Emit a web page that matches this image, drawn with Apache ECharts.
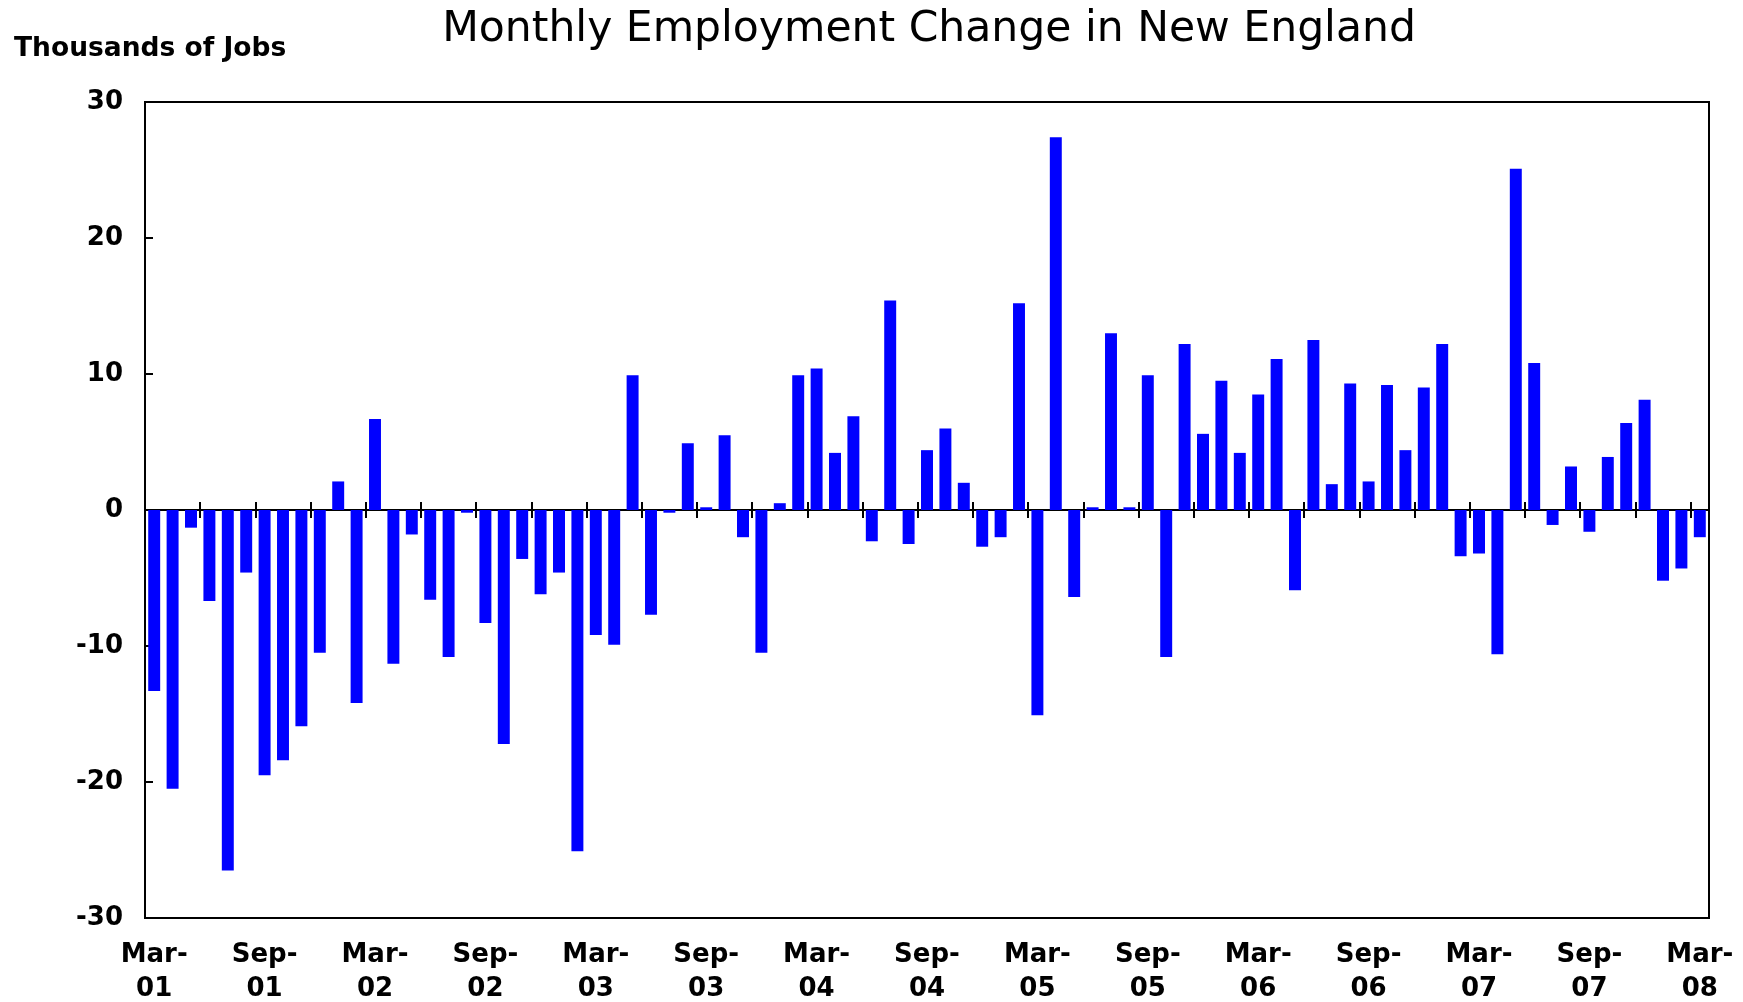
<!DOCTYPE html>
<html>
<head>
<meta charset="utf-8">
<title>Monthly Employment Change in New England</title>
<script src="https://cdn.jsdelivr.net/npm/echarts@6/dist/echarts.min.js"></script>
<style>
  html, body { margin: 0; padding: 0; background: #fff; }
  #chart { width: 1743px; height: 1002px; }
</style>
</head>
<body>
<div id="chart"></div>
<script>
// 月份（Mar-01 ~ Mar-08）
var months = [
  'Mar-01','Apr-01','May-01','Jun-01','Jul-01','Aug-01','Sep-01','Oct-01','Nov-01','Dec-01',
  'Jan-02','Feb-02','Mar-02','Apr-02','May-02','Jun-02','Jul-02','Aug-02','Sep-02','Oct-02','Nov-02','Dec-02',
  'Jan-03','Feb-03','Mar-03','Apr-03','May-03','Jun-03','Jul-03','Aug-03','Sep-03','Oct-03','Nov-03','Dec-03',
  'Jan-04','Feb-04','Mar-04','Apr-04','May-04','Jun-04','Jul-04','Aug-04','Sep-04','Oct-04','Nov-04','Dec-04',
  'Jan-05','Feb-05','Mar-05','Apr-05','May-05','Jun-05','Jul-05','Aug-05','Sep-05','Oct-05','Nov-05','Dec-05',
  'Jan-06','Feb-06','Mar-06','Apr-06','May-06','Jun-06','Jul-06','Aug-06','Sep-06','Oct-06','Nov-06','Dec-06',
  'Jan-07','Feb-07','Mar-07','Apr-07','May-07','Jun-07','Jul-07','Aug-07','Sep-07','Oct-07','Nov-07','Dec-07',
  'Jan-08','Feb-08','Mar-08'
];

// 每月就业变化（千人）
var jobChange = [
  -13.3,-20.5,-1.3,-6.7,-26.5,-4.6,-19.5,-18.4,-15.9,-10.5,
  2.1,-14.2,6.7,-11.3,-1.8,-6.6,-10.8,-0.2,-8.3,-17.2,-3.6,-6.2,
  -4.6,-25.1,-9.2,-9.9,9.9,-7.7,-0.2,4.9,0.2,5.5,-2.0,-10.5,
  0.5,9.9,10.4,4.2,6.9,-2.3,15.4,-2.5,4.4,6.0,2.0,-2.7,
  -2.0,15.2,-15.1,27.4,-6.4,0.2,13.0,0.2,9.9,-10.8,12.2,5.6,
  9.5,4.2,8.5,11.1,-5.9,12.5,1.9,9.3,2.1,9.2,4.4,9.0,
  12.2,-3.4,-3.2,-10.6,25.1,10.8,-1.1,3.2,-1.6,3.9,6.4,8.1,
  -5.2,-4.3,-2.0
];

var yTicks = [-30, 30, 10]; // min, max, interval

var boldFont = 'DejaVu Sans';

var chart = echarts.init(document.getElementById('chart'));

var option = {
  backgroundColor: '#fff',
  animation: false,
  title: [
    {
      text: 'Monthly Employment Change in New England',
      left: 929,
      textAlign: 'center',
      top: 9,
      padding: 0,
      textStyle: { fontFamily: boldFont, fontSize: 42.5, fontWeight: 'normal', color: '#000', lineHeight: 42 }
    },
    {
      text: 'Thousands of Jobs',
      left: 14,
      top: 36,
      padding: 0,
      textStyle: { fontFamily: boldFont, fontSize: 26.5, fontWeight: 'bold', color: '#000', lineHeight: 26 }
    }
  ],
  grid: {
    left: 145,
    right: 34,
    top: 102,
    bottom: 84,
    show: true,
    borderColor: '#000',
    borderWidth: 2,
    containLabel: false,
    outerBoundsMode: 'none'
  },
  xAxis: [
    {
      // 底部标签
      type: 'category',
      data: months,
      position: 'bottom',
      axisLine: { show: false, onZero: false },
      axisTick: { show: false },
      axisLabel: {
        interval: 5,
        margin: 20,
        fontFamily: boldFont,
        fontSize: 26,
        fontWeight: 'bold',
        color: '#000',
        lineHeight: 34,
        formatter: function (v) { return v.replace('-', '-\n'); }
      },
      splitLine: { show: false }
    },
    {
      // 零线，向下刻度
      type: 'category',
      data: months,
      position: 'bottom',
      axisLine: { show: true, onZero: true, onZeroAxisIndex: 0, lineStyle: { color: '#000', width: 2 } },
      axisTick: { show: true, interval: 2, length: 8, inside: false, lineStyle: { color: '#000', width: 2 } },
      axisLabel: { show: false },
      splitLine: { show: false }
    },
    {
      // 零线，向上刻度
      type: 'category',
      data: months,
      position: 'bottom',
      axisLine: { show: true, onZero: true, onZeroAxisIndex: 1, lineStyle: { color: '#000', width: 2 } },
      axisTick: { show: true, interval: 2, length: 8, inside: true, lineStyle: { color: '#000', width: 2 } },
      axisLabel: { show: false },
      splitLine: { show: false }
    }
  ],
  yAxis: [
    {
      type: 'value',
      min: yTicks[0],
      max: yTicks[1],
      interval: yTicks[2],
      axisLine: { show: true, lineStyle: { color: '#000', width: 2 } },
      axisTick: { show: true, inside: true, length: 8, lineStyle: { color: '#000', width: 2 } },
      axisLabel: {
        margin: 22,
        fontFamily: boldFont,
        fontSize: 26,
        fontWeight: 'bold',
        color: '#000'
      },
      splitLine: { show: false }
    },
    {
      // 隐藏轴，只给第二条零线用
      type: 'value',
      position: 'right',
      min: yTicks[0],
      max: yTicks[1],
      interval: yTicks[2],
      axisLine: { show: false },
      axisTick: { show: false },
      axisLabel: { show: false },
      splitLine: { show: false }
    }
  ],
  series: [
    {
      name: 'Monthly Employment Change',
      type: 'bar',
      xAxisIndex: 0,
      yAxisIndex: 0,
      data: jobChange,
      barCategoryGap: '35%',
      itemStyle: { color: '#0000ff' }
    }
  ]
};

chart.setOption(option);
</script>
</body>
</html>
